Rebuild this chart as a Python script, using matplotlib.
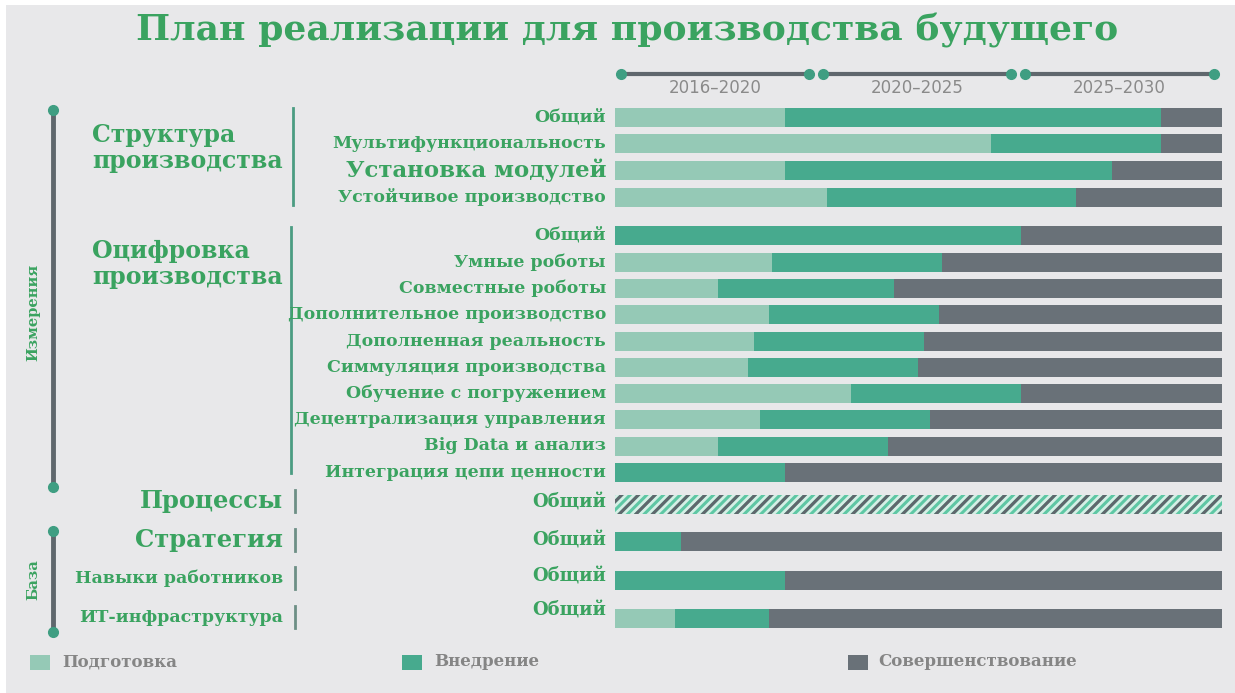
import matplotlib
matplotlib.use("Agg")
import matplotlib.pyplot as plt
from matplotlib.patches import Rectangle

# ---- data -------------------------------------------------------------
title = "План реализации для производства будущего"
periods = ["2016–2020", "2020–2025", "2025–2030"]
stages = ["Подготовка", "Внедрение", "Совершенствование"]
dimensions = ["Измерения", "База"]
groups = ["Структура\nпроизводства", "Оцифровка\nпроизводства",
          "Процессы", "Стратегия", "Навыки работников", "ИТ-инфраструктура"]
metrics = ["Общий", "Мультифункциональность", "Установка модулей",
           "Устойчивое производство",
           "Общий", "Умные роботы", "Совместные роботы",
           "Дополнительное производство", "Дополненная реальность",
           "Симмуляция производства", "Обучение с погружением",
           "Децентрализация управления", "Big Data и анализ",
           "Интеграция цепи ценности",
           "Общий", "Общий", "Общий", "Общий"]
# share of the 2016-2030 horizon (%) spent in each stage
preparation = [28, 62, 28, 35, 0, 26, 17, 25.5, 23, 22, 39, 24, 17, 0, 0, 0, 0, 10]
implementation = [62, 28, 54, 41, 67, 28, 29, 28, 28, 28, 28, 28, 28, 28, 0, 11, 28, 15.5]
improvement = [10, 10, 18, 24, 33, 46, 54, 46.5, 49, 50, 33, 48, 55, 72, 0, 89, 72, 74.5]
all_stages = [0] * 14 + [100] + [0] * 3   # stages run in parallel (hatched)

# ---- layout -----------------------------------------------------------
W, H = 1235, 693
row_y = [117, 143.5, 170, 197,
         235.5, 262, 288, 314.5, 341, 367, 393.5, 419.5, 446, 472.5,
         504, 541, 580, 618.5]
bar_h = 19

C_PREP = "#95c9b6"
C_IMPL = "#47aa8e"
C_IMPR = "#697178"
C_BG = "#e8e8ea"
C_TXT = "#3aa360"
C_LINE = "#5f676d"
C_DOT = "#3f9e82"
C_GREY = "#858585"

SERIF = "DejaVu Serif"
plt.rcParams["hatch.linewidth"] = 2.2

fig = plt.figure(figsize=(W / 100, H / 100), dpi=100)
fig.patch.set_facecolor("white")

# overlay in pixel coordinates for decorations and labels
ov = fig.add_axes([0, 0, 1, 1], zorder=0)
ov.set_xlim(0, W)
ov.set_ylim(H, 0)
ov.axis("off")
ov.add_patch(Rectangle((6, 5), W - 6, H - 5, facecolor=C_BG, edgecolor="none"))

# bar area: x in percent of horizon, y in pixels
x0, x1 = 614.6, 1221.5
ax = fig.add_axes([x0 / W, 0, (x1 - x0) / W, 1], zorder=2)
ax.set_xlim(0, 100)
ax.set_ylim(H, 0)
ax.axis("off")

left = [0] * len(metrics)
for vals, col in ((preparation, C_PREP), (implementation, C_IMPL), (improvement, C_IMPR)):
    ax.barh(row_y, vals, left=left, height=bar_h, color=col, linewidth=0)
    left = [a + b for a, b in zip(left, vals)]
# parallel stages: alternating green and grey stripes
ax.barh(row_y, all_stages, height=bar_h, color="#d6efe6", edgecolor="#5ec7a4",
        hatch="////", linewidth=0)
ax.barh(row_y, all_stages, height=bar_h, color="none", edgecolor=C_LINE,
        hatch="//", linewidth=0)

# period timeline above the bars
for i, p in enumerate(periods):
    s = i * 100 / 3 + 1.0
    e = (i + 1) * 100 / 3 - 1.3
    ax.plot([s, e], [74, 74], color=C_LINE, lw=3, solid_capstyle="butt", zorder=3)
    ax.plot([s, e], [74, 74], "o", color=C_DOT, ms=7, zorder=4)
    ax.text((s + e) / 2, 88, p, ha="center", va="center", fontsize=12,
            color="#8a8a8a", family="DejaVu Sans")

# metric labels
metric_size = [12.5] * len(metrics)
metric_size[2] = 16.5
for k in range(14, 18):
    metric_size[k] = 13
metric_dy = [0] * len(metrics)
metric_dy[14:18] = [-2, -1, -3, -8]
for lab, y, fs, dy in zip(metrics, row_y, metric_size, metric_dy):
    ov.text(606, y + dy, lab, ha="right", va="center", fontsize=fs,
            fontweight="bold", color=C_TXT, family=SERIF)

# group labels
ov.text(92, 148, groups[0], ha="left", va="center", fontsize=17,
        fontweight="bold", color=C_TXT, family=SERIF, linespacing=1.15)
ov.text(92, 264, groups[1], ha="left", va="center", fontsize=17,
        fontweight="bold", color=C_TXT, family=SERIF, linespacing=1.15)
ov.plot([293, 293], [108, 205], color="#4b9c82", lw=2)
ov.plot([291, 291], [227, 473], color="#4b9c82", lw=2)
for lab, y, fs in zip(groups[2:], [501, 540, 578, 617], [17.5, 17.5, 12.5, 12.5]):
    ov.text(283, y, lab, ha="right", va="center", fontsize=fs,
            fontweight="bold", color=C_TXT, family=SERIF)
    ov.plot([295, 295], [y - 11, y + 11], color="#6d8f85", lw=2)

# dimension brackets on the left
for (ya, yb), lab, yl in (((110, 487), dimensions[0], 312), ((531, 632), dimensions[1], 580)):
    ov.plot([53, 53], [ya, yb], color=C_LINE, lw=3.5, solid_capstyle="butt")
    ov.plot([53, 53], [ya, yb], "o", color=C_DOT, ms=7)
    ov.text(33, yl, lab, rotation=90, ha="center", va="center", fontsize=10.5,
            fontweight="bold", color=C_TXT, family=SERIF)

# title
ov.text(627, 31, title, ha="center", va="center", fontsize=26,
        fontweight="bold", color=C_TXT, family=SERIF)

# legend
for (sx, tx), lab, col in zip(((30, 62), (402, 434), (848, 878)), stages,
                              (C_PREP, C_IMPL, C_IMPR)):
    ov.add_patch(Rectangle((sx, 655), 20, 15, facecolor=col, edgecolor="none"))
    ov.text(tx, 662, lab, ha="left", va="center", fontsize=12,
            fontweight="bold", color=C_GREY, family=SERIF)

fig.savefig("out.png", dpi=100, facecolor=fig.get_facecolor())
